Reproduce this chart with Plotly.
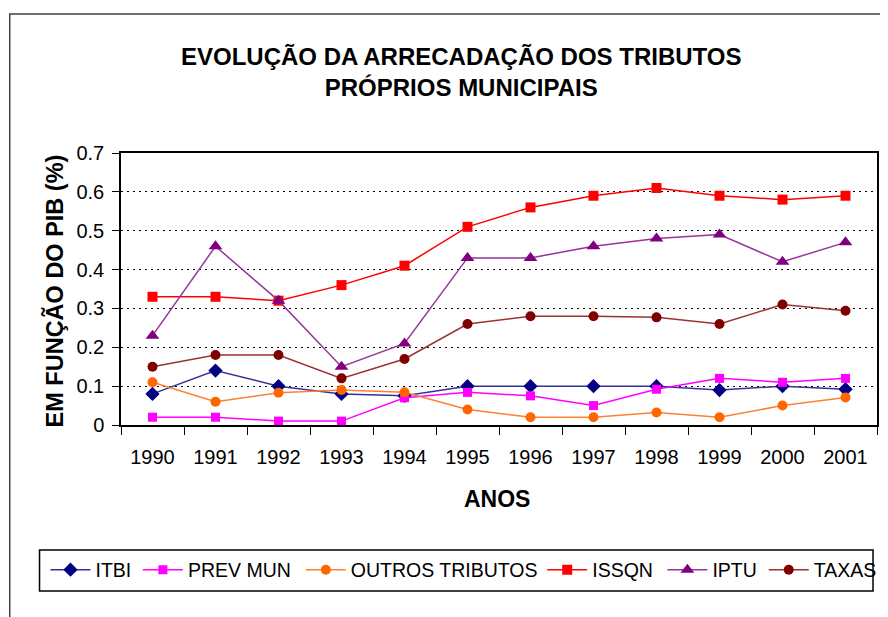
import plotly.graph_objects as go

years = ["1990", "1991", "1992", "1993", "1994", "1995", "1996", "1997", "1998", "1999", "2000", "2001"]
itbi = [0.08, 0.14, 0.10, 0.08, 0.075, 0.10, 0.10, 0.10, 0.10, 0.09, 0.10, 0.092]
prev_mun = [0.02, 0.02, 0.01, 0.01, 0.07, 0.084, 0.075, 0.05, 0.092, 0.12, 0.11, 0.12]
outros = [0.11, 0.06, 0.083, 0.09, 0.084, 0.04, 0.02, 0.02, 0.032, 0.02, 0.05, 0.071]
issqn = [0.33, 0.33, 0.32, 0.36, 0.41, 0.51, 0.56, 0.59, 0.61, 0.59, 0.58, 0.59]
iptu = [0.23, 0.46, 0.32, 0.15, 0.21, 0.43, 0.43, 0.46, 0.48, 0.49, 0.42, 0.47]
taxas = [0.15, 0.18, 0.18, 0.12, 0.17, 0.26, 0.28, 0.28, 0.277, 0.26, 0.31, 0.294]
y_ticks = [0, 0.1, 0.2, 0.3, 0.4, 0.5, 0.6, 0.7]
y_tick_labels = ["0", "0.1", "0.2", "0.3", "0.4", "0.5", "0.6", "0.7"]

series = [
    ("ITBI", itbi, "#333399", "#000080", "diamond", 11),
    ("PREV MUN", prev_mun, "#FF00FF", "#FF00FF", "square", 9),
    ("OUTROS TRIBUTOS", outros, "#FF7F33", "#FF6600", "circle", 10),
    ("ISSQN", issqn, "#FF0000", "#FF0000", "square", 10),
    ("IPTU", iptu, "#993399", "#800080", "triangle-up", 12),
    ("TAXAS", taxas, "#993333", "#800000", "circle", 10),
]
# screen x where each legend entry's text starts
legend_text_x = [95, 188, 352, 595, 716, 818]

FONT = "Liberation Sans, Arial, sans-serif"
OFF = 8  # page body margin
W, H = 888 - OFF, 617 - OFF
L, R, T, B = 121, 882, 153, 425  # plot area in screen px

def px(x):
    return (x - L) / (R - L)

def py(y):
    return (B - y) / (B - T)

fig = go.Figure()
legends = {}
for i, (name, vals, lc, mc, sym, sz) in enumerate(series):
    lg = "legend" if i == 0 else f"legend{i + 1}"
    fig.add_trace(go.Scatter(
        x=years, y=vals, name=name, mode="lines+markers",
        line=dict(color=lc, width=1.5),
        marker=dict(color=mc, symbol=sym, size=sz, line=dict(width=0)),
        cliponaxis=False, legend=lg,
    ))
    legends[lg] = dict(
        orientation="h", x=px(legend_text_x[i] - 50), xanchor="left",
        y=py(570), yanchor="middle",
        font=dict(size=19.5, family=FONT, color="black"),
        bgcolor="rgba(0,0,0,0)", borderwidth=0, itemwidth=40,
    )

fig.update_layout(
    width=W, height=H,
    margin=dict(l=L - OFF, r=(W + OFF) - R, t=T - OFF, b=(H + OFF) - B),
    paper_bgcolor="white", plot_bgcolor="white",
    font=dict(family=FONT, color="black", size=20),
    showlegend=True,
    xaxis=dict(
        type="category", range=[-0.5, 11.5], tickson="boundaries",
        ticks="outside", ticklen=8, tickcolor="black", tickwidth=1,
        showline=True, linecolor="black", linewidth=1.5, mirror=True,
        showgrid=False, tickfont=dict(size=20), ticklabelstandoff=13,
    ),
    yaxis=dict(
        range=[0, 0.7], tickvals=y_ticks, ticktext=y_tick_labels,
        ticks="outside", ticklen=7, tickcolor="black", tickwidth=1,
        showline=True, linecolor="black", linewidth=1.5, mirror=True,
        showgrid=True, gridcolor="black", gridwidth=1, griddash="2px,4px",
        zeroline=False, tickfont=dict(size=20), ticklabelstandoff=4,
    ),
    shapes=[
        dict(type="rect", xref="paper", yref="paper",
             x0=px(9), x1=px(900), y0=py(650), y1=py(14),
             line=dict(color="#404040", width=1.5), fillcolor="rgba(0,0,0,0)", layer="below"),
        dict(type="rect", xref="paper", yref="paper",
             x0=px(39), x1=px(878), y0=py(591), y1=py(550),
             line=dict(color="black", width=1.5), fillcolor="rgba(0,0,0,0)"),
    ],
    annotations=[
        dict(text="EVOLUÇÃO DA ARRECADAÇÃO DOS TRIBUTOS<br>PRÓPRIOS MUNICIPAIS",
             xref="paper", yref="paper", x=px(463), y=py(72), xanchor="center", yanchor="middle",
             showarrow=False, font=dict(size=24, family=FONT, color="black", weight="bold")),
        dict(text="ANOS", xref="paper", yref="paper", x=px(499), y=py(499),
             xanchor="center", yanchor="middle", showarrow=False,
             font=dict(size=23, family=FONT, color="black", weight="bold")),
        dict(text="EM FUNÇÃO DO PIB (%)", xref="paper", yref="paper", x=px(54), y=py(291),
             xanchor="center", yanchor="middle", showarrow=False, textangle=-90,
             font=dict(size=23.5, family=FONT, color="black", weight="bold")),
    ],
    **legends,
)

fig.write_html("out.html")
